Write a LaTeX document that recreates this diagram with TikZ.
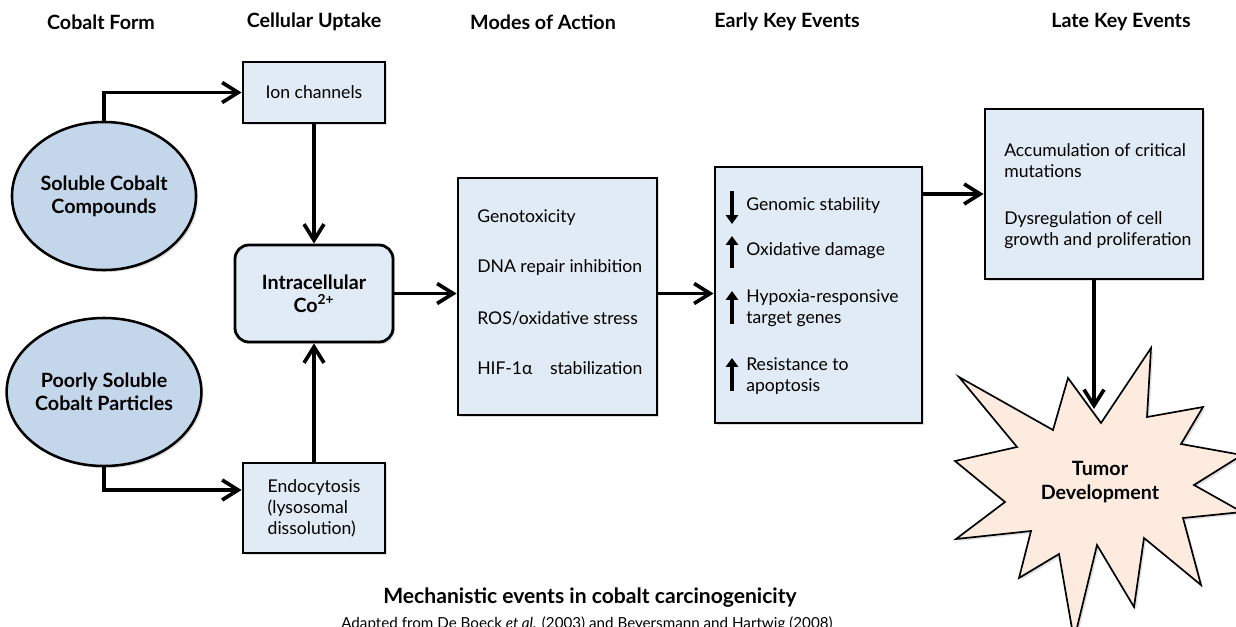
\documentclass[tikz,border=0pt]{standalone}
\usepackage{fontspec}
\setmainfont{Lato}
\usetikzlibrary{arrows.meta,shapes.geometric,shadows}
\definecolor{boxblue}{HTML}{E1EBF5}
\definecolor{ovalblue}{HTML}{C4D6EA}
\definecolor{tumorpink}{HTML}{FDEBDF}

\begin{document}
\begin{tikzpicture}[x=0.025cm,y=-0.025cm,
  head/.style={font=\fontsize{14}{16}\selectfont\bfseries},
  shade/.style={drop shadow={opacity=0.25,shadow xshift=1.5pt,shadow yshift=-1.5pt}},
  form/.style={draw,ellipse,fill=ovalblue,line width=1.8pt,shade,minimum width=4.6cm,minimum height=3.7cm,inner sep=0pt,align=center,font=\fontsize{14}{16.5}\selectfont\bfseries},
  box/.style={draw,fill=boxblue,line width=2pt,shade,inner sep=0pt},
  txt/.style={anchor=west,align=left,inner sep=0pt,font=\fontsize{12.5}{15}\selectfont},
  arr/.style={-{Straight Barb[length=4mm,width=5mm]},line width=2.6pt},
  updn/.style={-{Triangle[length=2.2mm,width=3mm]},line width=3pt}]
        \useasboundingbox (0,0) rectangle (1236,626);
        % column heads
        \node[head] (hform) at (101,22) {Cobalt Form};
        \node[head] (hup) at (314,22) {Cellular Uptake};
        \node[head] (hmode) at (543,22) {Modes of Action};
        \node[head] (hearly) at (787,22) {Early Key Events};
        \node[head] (hlate) at (1121,22) {Late Key Events};
        % cobalt forms
        \node[form] (sol) at (104,196) {Soluble Cobalt\\Compounds};
        \node[form] (poor) at (104,392) {Poorly Soluble\\Cobalt Particles};
        % uptake
        \node[box,minimum width=3.55cm,minimum height=1.525cm,font=\fontsize{12.5}{15}\selectfont] (ion) at (314,92.5) {Ion channels};
        \node[box,rounded corners=0.35cm,minimum width=3.95cm,minimum height=2.425cm,align=center,font=\fontsize{14}{16.5}\selectfont\bfseries] (intra) at (314,293.5) {Intracellular\\Co\textsuperscript{2+}};
        \node[box,minimum width=3.55cm,minimum height=2.25cm,align=left,font=\fontsize{12.5}{15}\selectfont] (endo) at (314,508) {Endocytosis\\(lysosomal\\dissolution)};
        % modes of action
        \node[box,minimum width=4.975cm,minimum height=5.925cm] (mode) at (557.5,296.5) {};
        \node[txt] (m1) at (477,218) {Genotoxicity};
        \node[txt] (m2) at (477,268) {DNA repair inhibition};
        \node[txt] (m3) at (477,318) {ROS/oxidative stress};
        \node[txt] (m4) at (477,368) {HIF-1α\quad stabilization};
        % early key events
        \node[box,minimum width=5.175cm,minimum height=6.4cm] (early) at (818.5,295) {};
        \node[txt] (e1) at (746,206) {Genomic stability};
        \node[txt] (e2) at (746,251) {Oxidative damage};
        \node[txt] (e3) at (746,308) {Hypoxia-responsive\\target genes};
        \node[txt] (e4) at (746,376) {Resistance to\\apoptosis};
        \draw[updn] (732,191) -- (732,224);
        \draw[updn] (732,268) -- (732,236);
        \draw[updn] (732,324) -- (732,291);
        \draw[updn] (732,391) -- (732,358);
        % late key events
        \node[box,minimum width=5.45cm,minimum height=4.25cm] (late) at (1094,194) {};
        \node[txt] (l1) at (1004,161) {Accumulation of critical\\mutations};
        \node[txt] (l2) at (1004,230) {Dysregulation of cell\\growth and proliferation};
        % tumor
        \draw[line width=1.2pt,fill=tumorpink,shade] (959,377) -- (1053,430) -- (1068,378) -- (1101,423)
          -- (1151,348) -- (1147,417) -- (1203,407) -- (1181,444) -- (1242,455) -- (1194,485)
          -- (1242,512) -- (1183,518) -- (1201,585) -- (1144,538) -- (1134,607) -- (1097,545)
          -- (1074,640) -- (1059,554) -- (1019,578) -- (1031,531) -- (956,539) -- (1005,502)
          -- (955,461) -- (1017,447) -- cycle;
        \node[align=center,font=\fontsize{14}{16.5}\selectfont\bfseries] (tumor) at (1100,482) {Tumor\\Development};
        \coordinate (hit) at (1094,409);
        % connectors
        \draw[arr] (sol.north) |- (ion.west);
        \draw[arr] (poor.south) |- ([yshift=0.45cm]endo.west);
        \draw[arr] (ion.south) -- (intra.north);
        \draw[arr] (endo.north) -- (intra.south);
        \draw[arr] (intra.east) -- (intra.east -| mode.west);
        \draw[arr] (intra.east -| mode.east) -- (intra.east -| early.west);
        \draw[arr] (late.west -| early.east) -- (late.west);
        \draw[arr] (late.south) -- (hit);
        % caption
        \node[font=\fontsize{15}{18}\selectfont\bfseries] (title) at (590,598) {Mechanistic events in cobalt carcinogenicity};
        \node[anchor=base,font=\fontsize{10.8}{13}\selectfont] (source) at (587,628) {Adapted from De Boeck \textit{et al.} (2003) and Beyersmann and Hartwig (2008)};
\end{tikzpicture}
\end{document}
